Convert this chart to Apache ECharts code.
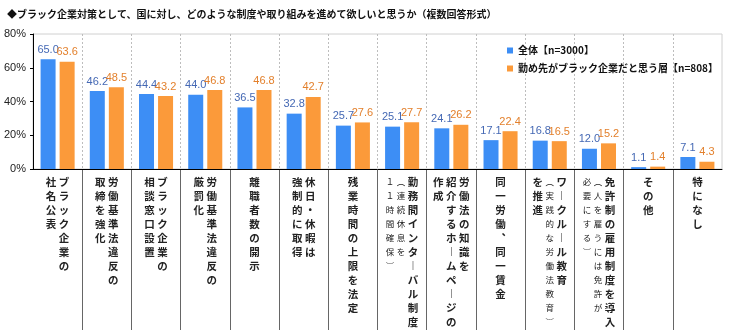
<!DOCTYPE html>
<html>
<head>
<meta charset="utf-8">
<script src="https://cdn.jsdelivr.net/npm/echarts@6/dist/echarts.min.js"></script>
<style>
  html, body { margin: 0; padding: 0; background: #fff; }
  #chart { width: 734px; height: 332px; }
</style>
</head>
<body>
<div id="chart"></div>
<script>
// Category names; '\n' separates the vertical text columns (first = rightmost column)
const categories = [
  'ブラック企業の\n社名公表',
  '労働基準法違反の\n取締を強化',
  'ブラック企業の\n相談窓口設置',
  '労働基準法違反の\n厳罰化',
  '離職者数の開示',
  '休日・休暇は\n強制的に取得',
  '残業時間の上限を法定',
  '勤務間インターバル制度\n（連続休息を\n11時間確保）',
  '労働法の知識を\n紹介するホームページの\n作成',
  '同一労働、同一賃金',
  'ワークルール教育\n（実践的な労働法教育）\nを推進',
  '免許制の雇用制度を導入\n（人を雇うには免許が\n必要にする）',
  'その他',
  '特になし'
];

const seriesNames = ['全体【n=3000】', '勤め先がブラック企業だと思う層【n=808】'];

// Percentages
const overallValues = [65.0, 46.2, 44.4, 44.0, 36.5, 32.8, 25.7, 25.1, 24.1, 17.1, 16.8, 12.0, 1.1, 7.1];
const blackCompanyValues = [63.6, 48.5, 43.2, 46.8, 46.8, 42.7, 27.6, 27.7, 26.2, 22.4, 16.5, 15.2, 1.4, 4.3];

const yTickValues = [0, 20, 40, 60, 80];

// Horizontal -> vertical presentation forms
const VERTICAL_FORMS = {
  'ー': '︱', '（': '︵', '）': '︶', '、': '︑', '1': '１'
};

function verticalLabel(name) {
  const cols = name.split('\n').reverse(); // left-to-right drawing order
  const chars = cols.map(c => Array.from(c).map(ch => VERTICAL_FORMS[ch] || ch));
  const small = cols.map(c => /[（）]/.test(c));
  const rows = Math.max(...chars.map(c => c.length));
  const lines = [];
  for (let r = 0; r < rows; r++) {
    lines.push(cols.map((c, i) => '{' + (small[i] ? 's' : 'b') + '|' + (chars[i][r] || '\u3000') + '}').join(''));
  }
  return lines.join('\n');
}

const CJK = '"Noto Sans CJK JP", sans-serif';
const LATIN = '"Liberation Sans", Arial, sans-serif';

const chart = echarts.init(document.getElementById('chart'), null, { renderer: 'canvas' });

chart.setOption({
  animation: false,
  backgroundColor: '#ffffff',
  title: {
    text: '◆ブラック企業対策として、国に対し、どのような制度や取り組みを進めて欲しいと思うか（複数回答形式）',
    left: 2,
    top: 4,
    textStyle: { fontFamily: CJK, fontSize: 10, fontWeight: 'bold', color: '#111' }
  },
  legend: {
    orient: 'vertical',
    left: 502,
    top: 39,
    itemWidth: 6,
    itemHeight: 6,
    itemGap: 5,
    icon: 'rect',
    data: seriesNames,
    textStyle: { fontFamily: CJK, fontSize: 10, fontWeight: 'bold', color: '#111', lineHeight: 13 }
  },
  grid: [
    { left: 33, right: 12, top: 34, height: 135, show: true, borderColor: '#d0d0d0', borderWidth: 1, containLabel: false },
    { left: 33, right: 12, top: 170, bottom: 2, containLabel: false }
  ],
  xAxis: [
    {
      type: 'category',
      gridIndex: 0,
      data: categories,
      axisLine: { show: true, lineStyle: { color: '#000', width: 1 } },
      axisTick: { show: false },
      splitLine: {
        show: true,
        interval: 0,
        showMinLine: false,
        showMaxLine: false,
        lineStyle: { color: '#bdbdbd', type: [2, 2], width: 1 }
      },
      axisLabel: {
        interval: 0,
        margin: 6,
        formatter: verticalLabel,
        color: '#222',
        rich: {
          b: { fontFamily: CJK, fontSize: 10.5, fontWeight: 'bold', width: 13, align: 'center', lineHeight: 14, color: '#222' },
          s: { fontFamily: CJK, fontSize: 8.5, width: 11, align: 'center', lineHeight: 14, color: '#222' }
        }
      }
    },
    {
      // separators between the category label columns
      type: 'category',
      gridIndex: 1,
      data: categories,
      axisLine: { show: false },
      axisTick: { show: false },
      axisLabel: { show: false },
      splitLine: {
        show: true,
        interval: 0,
        showMinLine: false,
        showMaxLine: false,
        lineStyle: { color: '#666', width: 1 }
      }
    }
  ],
  yAxis: [
    {
      type: 'value',
      gridIndex: 0,
      min: yTickValues[0],
      max: yTickValues[yTickValues.length - 1],
      interval: yTickValues[1] - yTickValues[0],
      axisLine: { show: true, lineStyle: { color: '#000', width: 1 } },
      axisTick: { show: true, length: 3, lineStyle: { color: '#000' } },
      splitLine: { show: false },
      axisLabel: { formatter: '{value}%', fontFamily: LATIN, fontSize: 11, color: '#222', margin: 7 }
    },
    { type: 'value', gridIndex: 1, show: false, min: 0, max: 1 }
  ],
  series: [
    {
      name: seriesNames[0],
      type: 'bar',
      data: overallValues,
      barWidth: 15,
      barGap: '27%',
      itemStyle: { color: '#3d8ef5' },
      label: {
        show: true,
        position: 'top',
        distance: 4,
        formatter: p => p.value.toFixed(1),
        fontFamily: LATIN,
        fontSize: 11,
        color: '#4468b4'
      }
    },
    {
      name: seriesNames[1],
      type: 'bar',
      data: blackCompanyValues,
      barWidth: 15,
      itemStyle: { color: '#fb9a3a' },
      label: {
        show: true,
        position: 'top',
        distance: 4,
        formatter: p => p.value.toFixed(1),
        fontFamily: LATIN,
        fontSize: 11,
        color: '#e3802c'
      }
    }
  ]
});
</script>
</body>
</html>
